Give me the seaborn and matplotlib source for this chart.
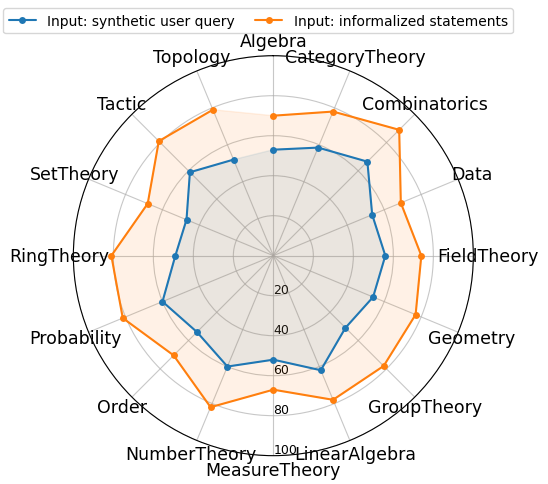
import numpy as np
import pandas as pd
import matplotlib
matplotlib.use('Agg')
import matplotlib.pyplot as plt
import seaborn as sns

# Categories in clockwise order starting at the top
categories = [
    'Algebra', 'CategoryTheory', 'Combinatorics', 'Data', 'FieldTheory',
    'Geometry', 'GroupTheory', 'LinearAlgebra', 'MeasureTheory',
    'NumberTheory', 'Order', 'Probability', 'RingTheory', 'SetTheory',
    'Tactic', 'Topology'
]

# Values
synthetic_query = [53, 58.5, 66.5, 53.5, 56, 54, 51, 62, 52, 60, 54, 60, 49, 47, 59, 52]
informalized = [70, 78, 89, 69, 74, 77, 78, 78, 67, 82, 70.5, 81.5, 81, 68, 81, 79]

series_names = ['Input: synthetic user query', 'Input: informalized statements']
series_values = [synthetic_query, informalized]
series_colors = ['#1f77b4', '#ff7f0e']

r_ticks = [20, 40, 60, 80, 100]

sns.set_style('white')
plt.rcParams['font.family'] = ['DejaVu Sans']
plt.rcParams['text.color'] = 'black'
plt.rcParams['xtick.color'] = 'black'
plt.rcParams['ytick.color'] = 'black'

# Angles for each category, closing the loop
n = len(categories)
angles = np.linspace(0, 2 * np.pi, n, endpoint=False)
angles_closed = np.append(angles, angles[0])

fig = plt.figure(figsize=(5.48, 4.85), dpi=100)
ax = fig.add_axes([0.1338, 0.0584, 0.730, 0.8247], projection='polar')
ax.set_theta_zero_location('N')
ax.set_theta_direction(-1)

for name, vals, color in zip(series_names, series_values, series_colors):
    closed = np.append(vals, vals[0])
    df = pd.DataFrame({'theta': angles_closed, 'r': closed})
    sns.lineplot(data=df, x='theta', y='r', ax=ax, sort=False, color=color,
                 marker='o', markersize=5, markeredgewidth=0, linewidth=1.5,
                 label=name)
    ax.fill(angles_closed, closed, color=color, alpha=0.1)

ax.set_ylim(0, 100)
ax.set_yticks(r_ticks)
ax.set_yticklabels([str(t) for t in r_ticks], fontsize=9, color='black')
ax.set_rlabel_position(180)
ax.set_xticks(angles)
ax.set_xticklabels(categories, fontsize=12.5, color='black')
ax.tick_params(axis='x', pad=0)
ax.set_xlabel('')
ax.set_ylabel('')
ax.grid(True, color='#b0b0b0', linewidth=0.8, alpha=0.7)
ax.spines['polar'].set_linewidth(0.8)
ax.spines['polar'].set_color('black')

handles, labels = ax.get_legend_handles_labels()
ax.get_legend().remove()
leg = fig.legend(handles, labels, loc='upper center', ncol=2, fontsize=10,
                 bbox_to_anchor=(0.471, 0.995), frameon=True, columnspacing=1.4)
for t in leg.get_texts():
    t.set_color('black')

fig.savefig('out.png', dpi=100)
